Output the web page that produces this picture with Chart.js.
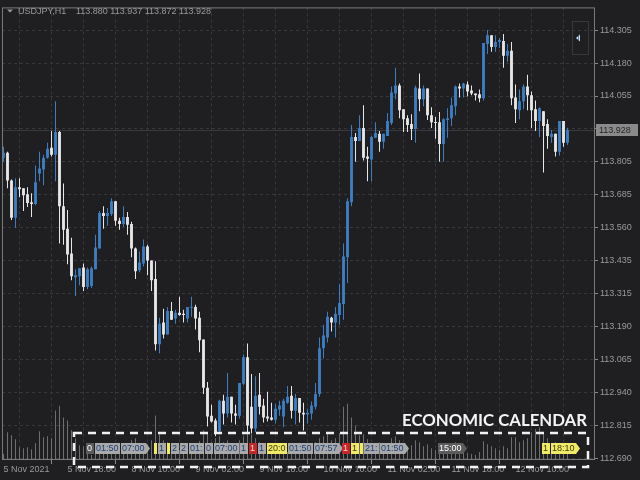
<!DOCTYPE html>
<html lang="en">
<head>
  <meta charset="UTF-8" />
  <title>USDJPY,H1</title>
  <script src="https://cdn.jsdelivr.net/npm/chart.js"></script>
  <style>
    * { box-sizing: border-box; margin: 0; padding: 0; }
    html, body { width: 640px; height: 480px; background: #1f1f22; overflow: hidden; }
    #wrap { position: relative; width: 640px; height: 480px; }
  </style>
</head>
<body>
  <div id="wrap"><canvas id="chart"></canvas></div>

  <script>
    const symbol = "USDJPY,H1";

    // hourly bars, 5 Nov 2021 02:00 .. 12 Nov 2021 23:00
    const opens = [
      113.824,113.843,113.738,113.597,113.712,113.709,113.686,113.656,113.649,113.764,
      113.779,113.824,113.861,113.835,113.921,113.641,113.556,113.463,113.373,113.377,
      113.410,113.336,113.340,113.403,113.481,113.615,113.604,113.612,113.660,113.586,
      113.574,113.600,113.574,113.481,113.399,113.425,113.489,113.436,113.366,113.120,
      113.202,113.157,113.246,113.217,113.239,113.235,113.217,113.258,113.261,113.220,
      113.138,112.956,112.851,112.833,112.792,112.907,112.859,112.922,112.859,112.851,
      112.971,113.071,112.885,112.803,112.930,112.889,112.848,112.844,112.836,112.874,
      112.848,112.900,112.926,112.870,112.918,112.862,112.855,112.859,112.885,112.933,
      113.105,113.146,113.220,113.202,113.231,113.272,113.448,113.656,113.902,113.887,
      113.936,113.828,113.817,113.899,113.914,113.884,113.906,113.955,114.066,114.096,
      114.007,113.973,113.951,113.932,114.085,114.044,114.085,113.984,113.958,113.958,
      113.876,113.966,113.973,114.018,114.092,114.085,114.100,114.077,114.066,114.063,
      114.048,114.253,114.286,114.241,114.260,114.264,114.208,114.227,114.051,114.003,
      114.037,114.092,114.059,114.007,113.962,113.999,113.951,113.902,113.914,113.846,
      113.962,113.880
    ];
    const highs = [
      113.865,113.846,113.742,113.746,113.746,113.709,113.712,113.690,113.794,113.846,
      113.835,113.880,113.925,114.037,113.925,113.727,113.627,113.522,113.403,113.407,
      113.425,113.410,113.414,113.533,113.623,113.641,113.634,113.671,113.660,113.597,
      113.641,113.619,113.582,113.485,113.470,113.515,113.496,113.436,113.433,113.220,
      113.254,113.261,113.280,113.250,113.299,113.250,113.261,113.299,113.269,113.243,
      113.138,112.978,112.892,112.840,112.911,112.930,113.012,112.922,112.892,112.974,
      113.082,113.123,113.008,113.000,113.012,112.915,112.941,112.900,112.896,112.907,
      112.915,112.963,112.963,112.933,112.918,112.900,112.877,112.904,112.974,113.146,
      113.194,113.243,113.224,113.261,113.347,113.500,113.671,113.947,113.917,113.984,
      114.022,113.865,113.906,113.958,113.925,113.914,113.992,114.092,114.163,114.104,
      114.007,113.984,113.988,114.096,114.141,114.096,114.085,114.014,113.977,113.996,
      113.973,114.010,114.051,114.096,114.104,114.107,114.111,114.096,114.066,114.081,
      114.256,114.305,114.286,114.286,114.275,114.290,114.253,114.260,114.100,114.081,
      114.100,114.137,114.074,114.040,114.014,113.999,113.969,113.928,113.914,113.962,
      113.962,113.937
    ];
    const lows = [
      113.809,113.709,113.589,113.560,113.675,113.623,113.638,113.600,113.645,113.735,
      113.720,113.820,113.828,113.735,113.500,113.496,113.422,113.362,113.302,113.343,
      113.321,113.328,113.332,113.403,113.481,113.556,113.567,113.604,113.567,113.552,
      113.563,113.533,113.448,113.366,113.392,113.414,113.381,113.321,113.097,113.086,
      113.142,113.157,113.213,113.198,113.228,113.202,113.202,113.224,113.176,113.090,
      112.933,112.810,112.825,112.773,112.781,112.818,112.844,112.825,112.818,112.840,
      112.967,112.788,112.784,112.788,112.855,112.825,112.829,112.833,112.821,112.851,
      112.807,112.896,112.840,112.818,112.825,112.795,112.821,112.836,112.874,112.922,
      113.067,113.127,113.168,113.146,113.194,113.213,113.351,113.641,113.809,113.887,
      113.813,113.735,113.735,113.899,113.846,113.858,113.906,113.947,114.044,113.973,
      113.921,113.921,113.891,113.880,113.999,114.018,113.966,113.936,113.895,113.809,
      113.809,113.899,113.943,113.984,114.051,114.051,114.055,114.059,114.040,114.033,
      114.040,114.215,114.223,114.223,114.238,114.163,114.186,114.022,113.955,113.969,
      114.007,114.003,113.936,113.925,113.902,113.768,113.858,113.880,113.828,113.831,
      113.865,113.872
    ];
    const closes = [
      113.843,113.738,113.597,113.712,113.705,113.682,113.653,113.649,113.731,113.783,
      113.824,113.858,113.835,113.921,113.641,113.552,113.459,113.377,113.381,113.407,
      113.336,113.403,113.407,113.485,113.615,113.604,113.615,113.660,113.586,113.574,
      113.600,113.571,113.481,113.396,113.429,113.489,113.436,113.362,113.120,113.198,
      113.157,113.246,113.213,113.239,113.231,113.231,113.261,113.261,113.217,113.135,
      112.956,112.848,112.829,112.788,112.907,112.859,112.922,112.859,112.851,112.974,
      113.071,112.814,112.803,112.926,112.885,112.844,112.840,112.836,112.877,112.889,
      112.907,112.922,112.870,112.918,112.862,112.855,112.862,112.889,112.933,113.105,
      113.153,113.224,113.202,113.235,113.276,113.451,113.660,113.902,113.887,113.936,
      113.824,113.820,113.902,113.917,113.884,113.914,113.962,114.070,114.096,114.003,
      113.969,113.947,113.932,114.089,114.044,114.085,113.984,113.958,113.955,113.876,
      113.969,113.973,114.022,114.092,114.085,114.104,114.074,114.066,114.059,114.048,
      114.256,114.286,114.241,114.260,114.268,114.208,114.227,114.048,114.007,114.037,
      114.092,114.059,114.003,113.962,114.010,113.943,113.906,113.914,113.846,113.962,
      113.880,113.928
    ];
    const volumes = [
      600,2800,2500,2100,1300,1200,1300,1100,1700,2900,
      2300,2400,2200,5000,5500,4300,4000,3000,2200,1500,
      1400,900,500,800,1400,1000,900,1200,1100,800,
      900,1200,2000,2200,1500,1700,1600,2000,4500,2600,
      2000,1800,1400,1200,1000,900,1100,1000,1500,1900,
      3000,2800,1800,2200,2400,1800,2000,1600,1400,2000,
      2400,3000,2600,2200,1800,1400,1200,1000,900,800,
      700,800,1000,900,1200,1000,900,1400,1800,2200,
      2400,2700,2000,2200,2700,5400,5700,4300,3500,2500,
      2600,2100,1700,1400,1800,1400,1700,2200,2400,2000,
      1600,1300,1500,2000,1800,1400,1600,1200,1000,1400,
      1600,1200,1500,1800,1000,800,700,600,500,800,
      1900,1600,1400,1200,1000,1400,1200,2300,2300,1800,
      2000,2200,2800,3100,3300,2700,2200,1600,1800,1600,
      1400,1000
    ];

    const timeTickIndex = [0, 16, 32, 48, 64, 80, 96, 112, 128];
    const timeTickLabels = ["5 Nov 2021", "5 Nov 18:00", "8 Nov 10:00", "9 Nov 02:00", "9 Nov 18:00",
                            "10 Nov 10:00", "11 Nov 02:00", "11 Nov 18:00", "12 Nov 10:00"];
    const priceLabels = [114.305, 114.180, 114.055, 113.930, 113.805, 113.685, 113.560,
                         113.435, 113.315, 113.190, 113.065, 112.940, 112.815, 112.690];
    const priceTop = 114.3907, priceBottom = 112.6838;

    // economic calendar tags: first hour of each group, then its tags
    const calendarAnchors = [21, 38, 85, 109, 135];
    const calendarEvents = [
      [["0","dark"],["01:50","gray"],["07:00","gray"]],
      [["","yellow"],["1","gray"],["","yellow"],["2","gray"],["2","gray"],["01:","gray"],["0","gray"],
       ["07:00","gray"],["1","gray"],["1","red"],["1","gray"],["20:0","yellow"],["01:50","gray"],["07:57","gray"]],
      [["1","red"],["1","yellow"],["","yellow"],["21:","gray"],["01:50","gray"]],
      [["15:00","dark"]],
      [["1","yellow"],["18:10","yellow"]]
    ];

    const BLUE = "#3d7ec2", WHITE = "#e6e6e6", TEXT = "#9a9a9a", GRID = "#38383c";
    const tagStyle = {
      gray: ["#a9a9a9", "#1d3f7c"],
      dark: ["#5c5c5c", "#ffffff"],
      red: ["#c4262a", "#f3d6d6"],
      yellow: ["#f1ea66", "#3b3a10"]
    };

    const idx = opens.map((_, i) => i);
    const candleColors = idx.map(i => closes[i] >= opens[i] ? BLUE : WHITE);
    const last = opens.length - 1;
    const priceTicks = priceLabels.map((_, k) =>
      priceLabels[0] + (priceLabels[priceLabels.length - 1] - priceLabels[0]) * k / (priceLabels.length - 1));
    const gridIdx = [];
    for (let v = 0; v <= 144; v += 8) gridIdx.push(v);

    const terminal = {
      id: "terminal",
      beforeDatasetsDraw(chart) {
        const { ctx, chartArea: a, scales: { y } } = chart;
        const yb = Math.round(y.getPixelForValue(closes[last])) + 0.5;
        ctx.save();
        ctx.strokeStyle = "#3a3a3e";
        ctx.lineWidth = 1;
        ctx.beginPath(); ctx.moveTo(a.left, yb); ctx.lineTo(a.right, yb); ctx.stroke();
        ctx.restore();
      },
      afterDraw(chart) {
        const { ctx, chartArea: a, scales: { x, y } } = chart;
        ctx.save();

        // frame
        ctx.strokeStyle = "#7a7a7a";
        ctx.lineWidth = 1;
        ctx.strokeRect(a.left + 0.5, a.top + 0.5, a.right - a.left, a.bottom - a.top - 1);

        // header
        ctx.fillStyle = TEXT;
        ctx.beginPath(); ctx.moveTo(7, 9.5); ctx.lineTo(13, 9.5); ctx.lineTo(10, 12.5); ctx.closePath(); ctx.fill();
        ctx.font = '9px "Liberation Sans"';
        ctx.textBaseline = "alphabetic";
        ctx.textAlign = "left";
        ctx.fillText(symbol, 18, 14);
        ctx.fillText([opens[last], highs[last], lows[last], closes[last]].map(v => v.toFixed(3)).join(" "), 76, 14);

        // current price tag
        const yc = Math.round(y.getPixelForValue(closes[last]));
        ctx.fillStyle = "#8a8a8a";
        ctx.fillRect(596, yc - 6, 42, 12);
        ctx.fillStyle = "#262626";
        ctx.textBaseline = "middle";
        ctx.fillText(closes[last].toFixed(3), 599, yc + 0.5);

        // scroll button
        ctx.strokeStyle = "#38383c";
        ctx.strokeRect(572.5, 21.5, 16, 33);
        ctx.fillStyle = "#d8dde6";
        ctx.beginPath(); ctx.moveTo(576, 38); ctx.lineTo(580, 34.5); ctx.lineTo(580, 41.5); ctx.closePath(); ctx.fill();
        ctx.fillStyle = BLUE;
        ctx.fillRect(578, 36, 1, 4);

        // economic calendar
        calendarAnchors.forEach((anchor, g) => {
          let px = Math.round(x.getPixelForValue(anchor) - 1.5);
          const y0 = 443, h = 11;
          const items = calendarEvents[g];
          items.forEach(([t, kind], k) => {
            const w = t ? Math.ceil(ctx.measureText(t).width) + 2 : 3;
            const [bg, fg] = tagStyle[kind];
            ctx.fillStyle = bg;
            ctx.fillRect(px, y0, w, h);
            if (t) {
              ctx.fillStyle = fg;
              ctx.fillText(t, px + 1, y0 + h / 2 + 0.5);
            }
            px += w + 1;
            if (k === items.length - 1) {
              ctx.fillStyle = bg;
              ctx.beginPath();
              ctx.moveTo(px - 1, y0); ctx.lineTo(px + 3, y0 + h / 2); ctx.lineTo(px - 1, y0 + h);
              ctx.closePath(); ctx.fill();
            }
          });
        });

        ctx.strokeStyle = "#f2f2f2";
        ctx.lineWidth = 2.5;
        ctx.setLineDash([8, 6]);
        ctx.strokeRect(74, 433, 514, 34);
        ctx.setLineDash([]);

        const title = "ECONOMIC CALENDAR";
        ctx.font = 'bold 17px Lato, "Noto Sans", sans-serif';
        ctx.textBaseline = "alphabetic";
        const tw = ctx.measureText(title).width;
        ctx.translate(587, 426);
        ctx.scale(185 / tw, 1);
        ctx.fillStyle = "#f4f4f4";
        ctx.textAlign = "right";
        ctx.fillText(title, 0, 0);
        ctx.restore();
      }
    };

    new Chart(document.getElementById("chart"), {
      type: "bar",
      data: {
        datasets: [
          {
            label: "Volumes",
            yAxisID: "yv",
            data: idx.map(i => ({ x: i, y: volumes[i] })),
            backgroundColor: "#6e6e6e",
            maxBarThickness: 1,
            grouped: false,
            inflateAmount: 0,
            borderWidth: 0,
            order: 3
          },
          {
            label: "Shadows",
            data: idx.map(i => ({ x: i, y: [lows[i], highs[i]] })),
            backgroundColor: candleColors,
            maxBarThickness: 1,
            grouped: false,
            inflateAmount: 0,
            borderWidth: 0,
            order: 2
          },
          {
            label: "Bodies",
            data: idx.map(i => ({ x: i, y: [opens[i], closes[i]] })),
            backgroundColor: candleColors,
            maxBarThickness: 3,
            minBarLength: 1,
            grouped: false,
            inflateAmount: 0,
            borderWidth: 0,
            order: 1
          }
        ]
      },
      options: {
        responsive: true,
        maintainAspectRatio: false,
        animation: false,
        devicePixelRatio: 1,
        layout: { padding: { left: 2, top: 2, right: 0, bottom: 0 }, autoPadding: false },
        plugins: { legend: { display: false }, tooltip: { enabled: false } },
        scales: {
          x: {
            type: "linear",
            min: -0.375,
            max: 147.625,
            offset: false,
            afterFit: s => { s.height = 20; },
            afterBuildTicks: s => { s.ticks = gridIdx.map(v => ({ value: v })); },
            ticks: {
              autoSkip: false,
              maxRotation: 0,
              align: "start",
              padding: 0,
              color: TEXT,
              font: { family: "Liberation Sans", size: 9 },
              callback: v => {
                const k = timeTickIndex.indexOf(v);
                return k >= 0 ? timeTickLabels[k] : "";
              }
            },
            grid: {
              color: GRID,
              tickLength: 4,
              tickBorderDash: [],
              tickColor: c => (c.tick && timeTickIndex.includes(c.tick.value)) ? "#8a8a8a" : "rgba(0,0,0,0)"
            },
            border: { display: false, dash: [3, 3] }
          },
          y: {
            position: "right",
            min: priceBottom,
            max: priceTop,
            afterFit: s => { s.width = 46; },
            afterBuildTicks: s => { s.ticks = priceTicks.map(v => ({ value: v })); },
            ticks: {
              autoSkip: false,
              padding: 2,
              color: TEXT,
              font: { family: "Liberation Sans", size: 9 },
              callback: (v, k) => priceLabels[k].toFixed(3)
            },
            grid: { color: GRID, tickLength: 4, tickBorderDash: [], tickColor: "#8a8a8a" },
            border: { display: false, dash: [3, 3] }
          },
          yv: { display: false, min: 0, max: 45800 }
        }
      },
      plugins: [terminal]
    });
  </script>
</body>
</html>
